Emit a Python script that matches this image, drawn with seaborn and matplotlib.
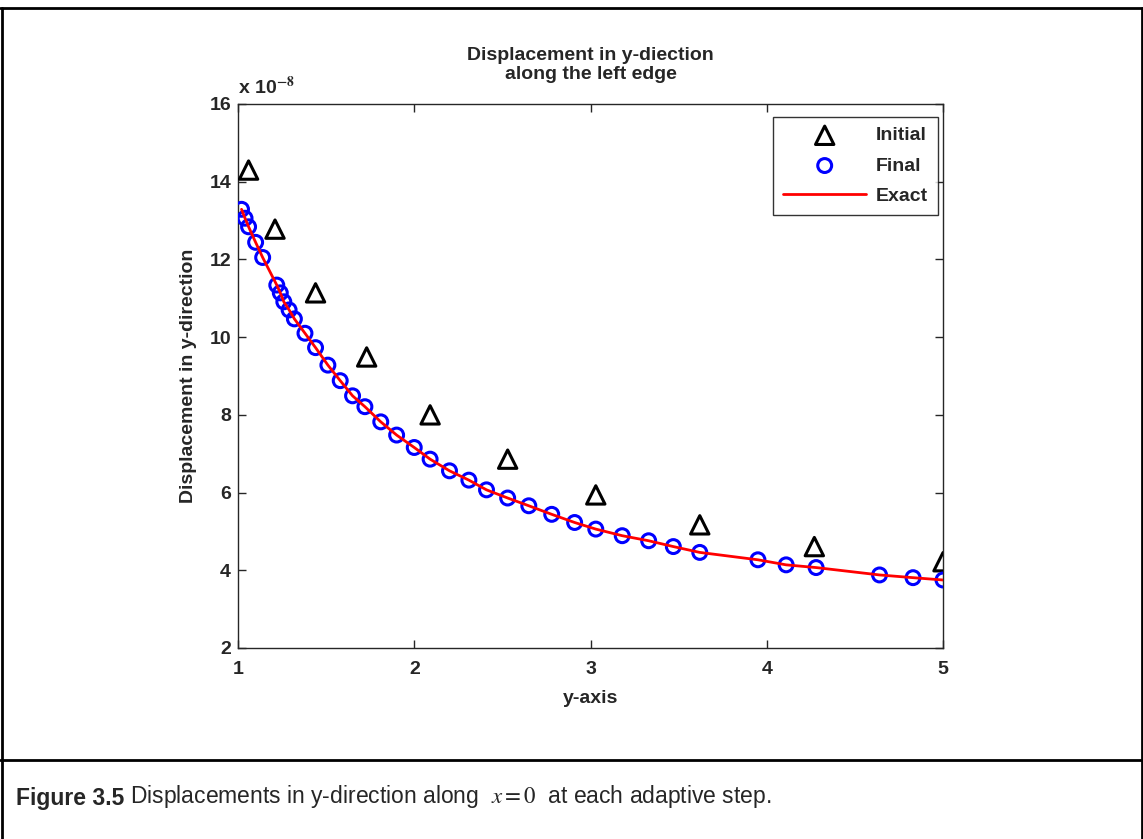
import matplotlib
matplotlib.use("Agg")
import matplotlib.pyplot as plt
from matplotlib.lines import Line2D
import seaborn as sns

# ---- Data (displacement values in units of 1e-8) ----
init_x = [1.06, 1.21, 1.44, 1.73, 2.09, 2.53, 3.03, 3.62, 4.27, 5.00]
init_y = [14.30, 12.78, 11.14, 9.49, 8.00, 6.86, 5.94, 5.17, 4.61, 4.22]

final_x = [1.02, 1.04, 1.06, 1.10, 1.14, 1.22, 1.24, 1.26, 1.29, 1.32, 1.38, 1.44,
           1.51, 1.58, 1.65, 1.72, 1.81, 1.90, 2.00, 2.09, 2.20, 2.31, 2.41, 2.53,
           2.65, 2.78, 2.91, 3.03, 3.18, 3.33, 3.47, 3.62, 3.95, 4.11, 4.28, 4.64,
           4.83, 5.00]
final_y = [13.29, 13.06, 12.84, 12.44, 12.05, 11.34, 11.14, 10.91, 10.70, 10.47, 10.10, 9.73,
           9.28, 8.88, 8.49, 8.21, 7.82, 7.48, 7.16, 6.86, 6.56, 6.32, 6.07, 5.86,
           5.66, 5.44, 5.23, 5.06, 4.89, 4.76, 4.61, 4.46, 4.27, 4.14, 4.07, 3.88,
           3.81, 3.75]

# exact solution evaluated at the final nodes (line runs through the circles)
exact_x = final_x
exact_y = final_y

x_ticks = [1, 2, 3, 4, 5]
y_ticks = [2, 4, 6, 8, 10, 12, 14, 16]

sns.set_style("ticks")
plt.rcParams["font.family"] = ["Liberation Sans", "DejaVu Sans"]
plt.rcParams["mathtext.fontset"] = "stix"

FS = 14

fig = plt.figure(figsize=(11.43, 8.39), dpi=100)
ax = fig.add_axes([238 / 1143, 1 - 648 / 839, 705 / 1143, 544 / 839])

sns.scatterplot(x=init_x, y=init_y, marker="^", s=175, color="black",
                facecolor="none", edgecolor="black", linewidth=2.2,
                label="Initial", ax=ax, zorder=3)
sns.scatterplot(x=final_x, y=final_y, marker="o", s=100, color="blue",
                facecolor="none", edgecolor="blue", linewidth=2.2,
                label="Final", ax=ax, zorder=3)
sns.lineplot(x=exact_x, y=exact_y, color="red", linewidth=2.0,
             estimator=None, sort=False, label="Exact", ax=ax, zorder=4)

ax.set_xlim(1, 5)
ax.set_ylim(2, 16)
ax.set_xticks(x_ticks)
ax.set_yticks(y_ticks)
ax.set_xticklabels([str(v) for v in x_ticks], fontsize=FS, fontweight="bold")
ax.set_yticklabels([str(v) for v in y_ticks], fontsize=FS, fontweight="bold")
ax.tick_params(direction="in", top=True, right=True, length=6, width=1)
ax.tick_params(axis="x", pad=9)
ax.tick_params(axis="y", pad=5)
for sp in ax.spines.values():
    sp.set_visible(True)
    sp.set_linewidth(1.0)

ax.set_xlabel("y-axis", fontsize=FS, fontweight="bold", labelpad=9)
ax.set_ylabel("Displacement in y-direction", fontsize=FS, fontweight="bold", labelpad=9)
ax.set_title("Displacement in y-diection\nalong the left edge", fontsize=FS,
             fontweight="bold", pad=18, linespacing=1.17)
ax.text(0.0, 1.01, r"x 10$^{\mathbf{-8}}$", transform=ax.transAxes, fontsize=FS,
        fontweight="bold", ha="left", va="bottom")

leg = ax.legend(loc="upper right", bbox_to_anchor=(0.993, 0.976), borderaxespad=0,
                fontsize=FS, frameon=True, fancybox=False, handlelength=4.3,
                handletextpad=0.5, borderpad=0.5, labelspacing=0.65, scatterpoints=1)
leg.get_frame().set_edgecolor("black")
leg.get_frame().set_linewidth(1.0)
for t in leg.get_texts():
    t.set_fontweight("bold")

# ---- outer frame and caption ----
lw = 2.0
fig.add_artist(Line2D([0, 1], [1 - 8 / 839, 1 - 8 / 839], color="black", lw=lw))
fig.add_artist(Line2D([1.5 / 1143, 1.5 / 1143], [0, 1 - 8 / 839], color="black", lw=lw))
fig.add_artist(Line2D([1141.5 / 1143, 1141.5 / 1143], [0, 1 - 8 / 839], color="black", lw=lw))
fig.add_artist(Line2D([0, 1], [1 - 760 / 839, 1 - 760 / 839], color="black", lw=lw))

cap1 = fig.text(16 / 1143, 1 - 805 / 839, "Figure 3.5", fontsize=16.5, fontweight="bold",
                ha="left", va="baseline")
ax.annotate(r"Displacements in y-direction along  $x = 0$  at each adaptive step.",
            xy=(1, 0), xycoords=cap1, xytext=(4, 0), textcoords="offset points",
            fontsize=16.5, ha="left", va="bottom", annotation_clip=False)

fig.savefig("out.png", dpi=100)
